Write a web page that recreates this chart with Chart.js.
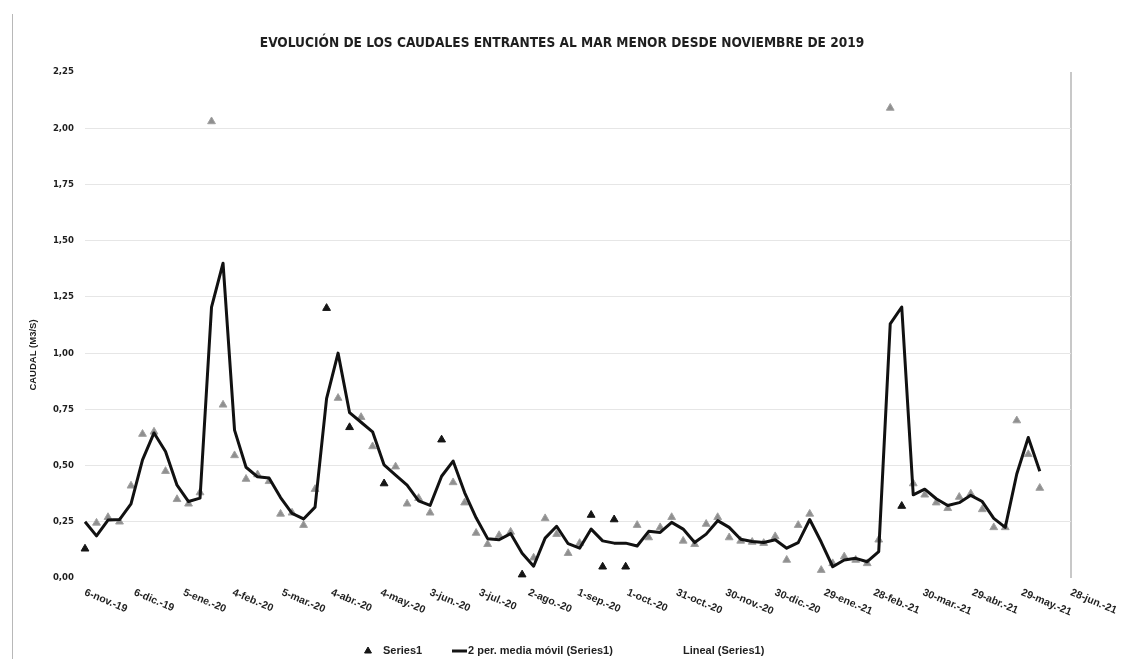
<!DOCTYPE html>
<html>
<head>
<meta charset="utf-8">
<script src="https://cdn.jsdelivr.net/npm/chart.js@4.4.1/dist/chart.umd.min.js"></script>
<style>
  html, body { margin: 0; padding: 0; background: #ffffff; }
  #wrap { position: relative; width: 1124px; height: 659px; overflow: hidden; }
  #c { position: absolute; left: 0; top: 0; }
  #frame { position: absolute; left: 12px; top: 14px; height: 645px; width: 0; border-left: 1px solid #b8b8b8; }
</style>
</head>
<body>
<div id="wrap">
  <canvas id="c" width="1124" height="659"></canvas>
  <div id="frame"></div>
</div>
<script>
// ---------------- DATA ----------------
const chartTitle = 'EVOLUCIÓN DE LOS CAUDALES ENTRANTES AL MAR MENOR DESDE NOVIEMBRE DE 2019';
const yAxisTitle = 'CAUDAL (M3/S)';

// weekly measurement dates (first one lies just before the axis start)
const dates = [
  '2019-10-30','2019-11-06','2019-11-13','2019-11-20','2019-11-27','2019-12-04','2019-12-11','2019-12-18','2019-12-25',
  '2020-01-01','2020-01-08','2020-01-15','2020-01-22','2020-01-29','2020-02-05','2020-02-12','2020-02-19','2020-02-26',
  '2020-03-04','2020-03-11','2020-03-18','2020-03-25','2020-04-01','2020-04-08','2020-04-15','2020-04-22','2020-04-29',
  '2020-05-06','2020-05-13','2020-05-20','2020-05-27','2020-06-03','2020-06-10','2020-06-17','2020-06-24',
  '2020-07-01','2020-07-08','2020-07-15','2020-07-22','2020-07-29','2020-08-05','2020-08-12','2020-08-19','2020-08-26',
  '2020-09-02','2020-09-09','2020-09-16','2020-09-23','2020-09-30','2020-10-07','2020-10-14','2020-10-21','2020-10-28',
  '2020-11-04','2020-11-11','2020-11-18','2020-11-25','2020-12-02','2020-12-09','2020-12-16','2020-12-23','2020-12-30',
  '2021-01-06','2021-01-13','2021-01-20','2021-01-27','2021-02-03','2021-02-10','2021-02-17','2021-02-24',
  '2021-03-03','2021-03-10','2021-03-17','2021-03-24','2021-03-31','2021-04-07','2021-04-14','2021-04-21','2021-04-28',
  '2021-05-05','2021-05-12','2021-05-19','2021-05-26','2021-06-02','2021-06-09'
];

// caudal (m3/s), Series1
const caudal = [
  0.37,
  0.13, 0.245, 0.27, 0.25, 0.41, 0.64, 0.65, 0.475, 0.35,
  0.33, 0.38, 2.03, 0.77, 0.545, 0.44, 0.46, 0.43,
  0.285, 0.29, 0.235, 0.395, 1.20, 0.80, 0.67, 0.715, 0.585,
  0.42, 0.495, 0.33, 0.355, 0.29, 0.615, 0.425, 0.335,
  0.20, 0.15, 0.19, 0.205, 0.015, 0.09, 0.265, 0.195, 0.11,
  0.155, 0.28, 0.05, 0.26, 0.05, 0.235, 0.18, 0.225, 0.27,
  0.165, 0.15, 0.24, 0.27, 0.18, 0.165, 0.16, 0.155, 0.185,
  0.08, 0.235, 0.285, 0.035, 0.065, 0.095, 0.08, 0.065,
  0.17, 2.09, 0.32, 0.42, 0.37, 0.335, 0.31, 0.36, 0.375,
  0.305, 0.225, 0.225, 0.70, 0.55, 0.40
];

// points that print darker in the scanned original
const darkPointDates = ['2019-11-06','2020-04-01','2020-04-15','2020-05-06','2020-06-10','2020-07-29',
  '2020-09-09','2020-09-16','2020-09-23','2020-09-30','2021-03-17'];

const axisStart = '2019-11-06';
const axisEnd = '2021-06-28';
const tickLabels = ['6-nov.-19','6-dic.-19','5-ene.-20','4-feb.-20','5-mar.-20','4-abr.-20','4-may.-20',
  '3-jun.-20','3-jul.-20','2-ago.-20','1-sep.-20','1-oct.-20','31-oct.-20','30-nov.-20','30-dic.-20',
  '29-ene.-21','28-feb.-21','30-mar.-21','29-abr.-21','29-may.-21','28-jun.-21'];
const yMax = 2.25, yStep = 0.25, xStepDays = 30;

const legendSeries = 'Series1';
const legendMA = '2 per. media móvil (Series1)';
const legendLinear = 'Lineal (Series1)';

// ---------------- BUILD ----------------
const DAY = 86400000;
const t0 = Date.parse(axisStart);
const dayOf = s => Math.round((Date.parse(s) - t0) / DAY);
const days = dates.map(dayOf);
const xMax = dayOf(axisEnd);
const darkSet = new Set(darkPointDates);

const scatterData = dates.map((d, i) => ({ x: days[i], y: caudal[i] }));
// Excel "2 per. media móvil": average of each value with the previous one
const maData = caudal.slice(1).map((v, i) => ({ x: days[i + 1], y: (caudal[i] + v) / 2 }));

const GRAY = '#8f8f8f', DARK = '#151515', TXT = '#1f1f1f';
const NARROW = '"Liberation Sans Narrow", "DejaVu Sans Condensed", "Liberation Sans", sans-serif';
const SANS = '"Liberation Sans", Arial, sans-serif';

const decor = {
  id: 'decor',
  afterDraw(chart) {
    const { ctx } = chart;
    const xs = chart.scales.x;
    ctx.save();
    ctx.fillStyle = TXT;
    // title
    ctx.font = 'bold 13.6px ' + NARROW;
    ctx.textAlign = 'center';
    ctx.textBaseline = 'middle';
    ctx.fillText(chartTitle, 562, 43);
    // y axis title
    ctx.save();
    ctx.translate(33, 355);
    ctx.rotate(-Math.PI / 2);
    ctx.font = 'bold 9.5px ' + SANS;
    ctx.fillText(yAxisTitle, 0, 0);
    ctx.restore();
    // rotated x tick labels
    ctx.font = 'bold 10.5px ' + SANS;
    ctx.textAlign = 'left';
    xs.ticks.forEach(t => {
      const lbl = tickLabels[Math.round(t.value / xStepDays)];
      if (!lbl) return;
      const px = xs.getPixelForValue(t.value);
      ctx.save();
      ctx.translate(px, 592);
      ctx.rotate(0.40);
      ctx.fillText(lbl, 0, 0);
      ctx.restore();
    });
    // legend
    const ly = 651;
    ctx.font = 'bold 11px ' + SANS;
    ctx.textBaseline = 'middle';
    ctx.fillStyle = DARK; ctx.strokeStyle = DARK; ctx.lineWidth = 1;
    Chart.helpers.drawPoint(ctx, { pointStyle: 'triangle', radius: 4, borderWidth: 1 }, 368, ly);
    ctx.fillStyle = TXT;
    ctx.fillText(legendSeries, 383, ly);
    ctx.strokeStyle = DARK; ctx.lineWidth = 3;
    ctx.beginPath(); ctx.moveTo(452, ly); ctx.lineTo(467, ly); ctx.stroke();
    ctx.fillText(legendMA, 468, ly);
    ctx.fillText(legendLinear, 683, ly);
    ctx.restore();
  }
};

new Chart(document.getElementById('c'), {
  type: 'scatter',
  data: {
    datasets: [
      {
        label: legendSeries,
        data: scatterData,
        pointStyle: 'triangle',
        pointRadius: 4.5,
        pointHoverRadius: 4.5,
        pointBackgroundColor: dates.map(d => darkSet.has(d) ? DARK : GRAY),
        pointBorderColor: dates.map(d => darkSet.has(d) ? DARK : '#a0a0a0'),
        pointBorderWidth: 1,
        order: 2,
        clip: { left: 6, right: 6, top: 8, bottom: 6 }
      },
      {
        label: legendMA,
        data: maData,
        showLine: true,
        borderColor: '#111111',
        borderWidth: 3,
        borderJoinStyle: 'round',
        pointRadius: 0,
        tension: 0,
        order: 1,
        clip: 4
      },
      {
        label: legendLinear,
        data: [],
        showLine: true,
        borderColor: 'rgba(0,0,0,0)',
        pointRadius: 0,
        order: 0
      }
    ]
  },
  options: {
    responsive: false,
    animation: false,
    devicePixelRatio: 1,
    layout: { padding: { top: 72, right: 53, bottom: 0, left: 0 } },
    plugins: {
      legend: { display: false },
      title: { display: false },
      tooltip: { enabled: false }
    },
    scales: {
      x: {
        type: 'linear',
        min: 0,
        max: xMax,
        ticks: { stepSize: xStepDays, display: false },
        grid: {
          drawTicks: false,
          color: c => (c.tick && c.tick.value === xMax) ? '#c8c8c8' : 'rgba(0,0,0,0)',
          lineWidth: c => (c.tick && c.tick.value === xMax) ? 2 : 1
        },
        border: { display: false },
        afterFit: s => { s.height = 81; s.paddingLeft = 0; s.paddingRight = 0; }
      },
      y: {
        min: 0,
        max: yMax,
        ticks: {
          stepSize: yStep,
          padding: 11,
          color: TXT,
          font: { family: NARROW, size: 9.5, weight: 'bold' },
          callback: v => v.toFixed(2).replace('.', ',')
        },
        grid: {
          drawTicks: false,
          color: c => (c.tick.value === 0 || c.tick.value === yMax) ? 'rgba(0,0,0,0)' : '#e6e6e6'
        },
        border: { display: false },
        afterFit: s => { s.width = 85; s.paddingTop = 0; s.paddingBottom = 0; }
      }
    }
  },
  plugins: [decor]
});
</script>
</body>
</html>
